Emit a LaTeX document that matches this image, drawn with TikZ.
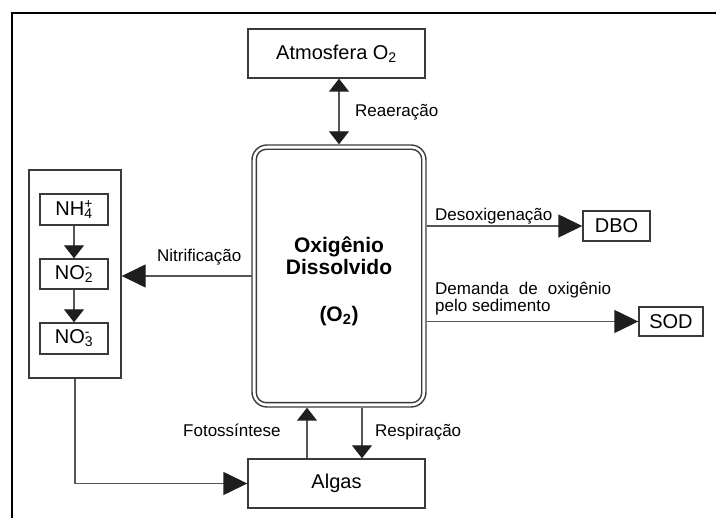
\documentclass[tikz,border=0pt]{standalone}
\usepackage{fontspec}
\setmainfont{Liberation Sans}
\usetikzlibrary{arrows.meta}
\definecolor{edgegray}{HTML}{3A3A3A}
\definecolor{linegray}{HTML}{555555}
\definecolor{tipgray}{HTML}{1E1E1E}
\newcommand\ionsub[2]{\rlap{\textsuperscript{#2}}\textsubscript{#1}}
\tikzset{
  boxlabel/.style={draw=edgegray, line width=1.4pt, inner sep=0pt, align=center,
    font=\fontsize{20}{24}\selectfont},
  lbl/.style={inner sep=0pt, font=\fontsize{17}{17}\selectfont},
  conn/.style={draw=linegray, line width=1.4pt},
  vtip/.style={conn, -{Triangle[width=20pt,length=13pt,color=tipgray]}},
  vtips/.style={conn, {Triangle[width=20pt,length=13pt,color=tipgray]}-{Triangle[width=20pt,length=13pt,color=tipgray]}},
  htip/.style={conn, -{Triangle[width=23pt,length=24pt,color=tipgray]}},
}
\begin{document}
\begin{tikzpicture}[x=1pt,y=-1pt]
\useasboundingbox (0,0) rectangle (716,518);
% frame (cropped)
\draw[line width=2.2pt, black] (12,518) -- (12,13) -- (716,13);

% nodes
\node[boxlabel, minimum width=177pt, minimum height=49pt] (atm) at (336.5,53.5) {Atmosfera O\textsubscript{2}};
\node[draw=edgegray, line width=1.4pt, rounded corners=15pt, minimum width=174pt, minimum height=262pt, inner sep=0pt] (o2) at (339,276) {};
\draw[edgegray, line width=1.4pt, rounded corners=10pt] ([shift={(5pt,-5pt)}]o2.north west) rectangle ([shift={(-5pt,5pt)}]o2.south east);
\node[inner sep=0pt, align=center, font=\fontsize{21}{22}\bfseries\selectfont] (o2txt) at (339,256) {Oxigênio\\Dissolvido};
\node[inner sep=0pt, font=\fontsize{21}{22}\bfseries\selectfont] (o2f) at (339,316) {(O\textsubscript{2})};

\node[boxlabel, minimum width=67pt, minimum height=30pt] (dbo) at (616.5,226) {DBO};
\node[boxlabel, minimum width=64pt, minimum height=29pt] (sod) at (671,321.5) {SOD};

\node[draw=edgegray, line width=1.4pt, minimum width=92pt, minimum height=208pt, inner sep=0pt] (cont) at (75,274) {};
\node[boxlabel, minimum width=68pt, minimum height=31pt] (nh4) at (74,209.5) {NH\ionsub{4}{+}};
\node[boxlabel, minimum width=68pt, minimum height=30pt] (no2) at (74,274) {NO\ionsub{2}{-}};
\node[boxlabel, minimum width=68pt, minimum height=31pt] (no3) at (74,338.5) {NO\ionsub{3}{-}};

\node[boxlabel, minimum width=177pt, minimum height=49pt] (alg) at (336.5,483.5) {Algas};

% connectors
\draw[vtips] (o2.north) -- (o2.north |- atm.south);
\node[lbl, anchor=base west] (lreae) at (355,117) {Reaeração};

\draw[htip] (o2.east |- dbo.west) -- (dbo.west);
\node[lbl, anchor=base west] (ldeso) at (435,221) {Desoxigenação};

\draw[htip] (o2.east |- sod.west) -- (sod.west);
\node[lbl, anchor=base west] (ldem1) at (435,295) {\makebox[176pt][s]{Demanda de oxigênio}};
\node[lbl, anchor=base west] (ldem2) at (435,312) {pelo sedimento};

\coordinate (nitr) at (252,276);
\draw[htip] (nitr) -- (nitr -| cont.east);
\node[lbl, anchor=base west] (lnitr) at (157,262) {Nitrificação};

\draw[vtip] (nh4.south) -- (no2.north);
\draw[vtip] (no2.south) -- (no3.north);

\coordinate (bend) at (cont.south |- alg.west);
\draw[htip] (cont.south) -- (bend) -- (alg.west);

\coordinate (fotx) at (307,0);
\coordinate (resx) at (362,0);
\draw[vtip] (fotx |- alg.north) -- (fotx |- o2.south);
\draw[vtip] (resx |- o2.south) -- (resx |- alg.north);
\node[lbl, anchor=base west] (lfoto) at (183,437) {Fotossíntese};
\node[lbl, anchor=base west] (lresp) at (375,437) {Respiração};
\end{tikzpicture}
\end{document}
